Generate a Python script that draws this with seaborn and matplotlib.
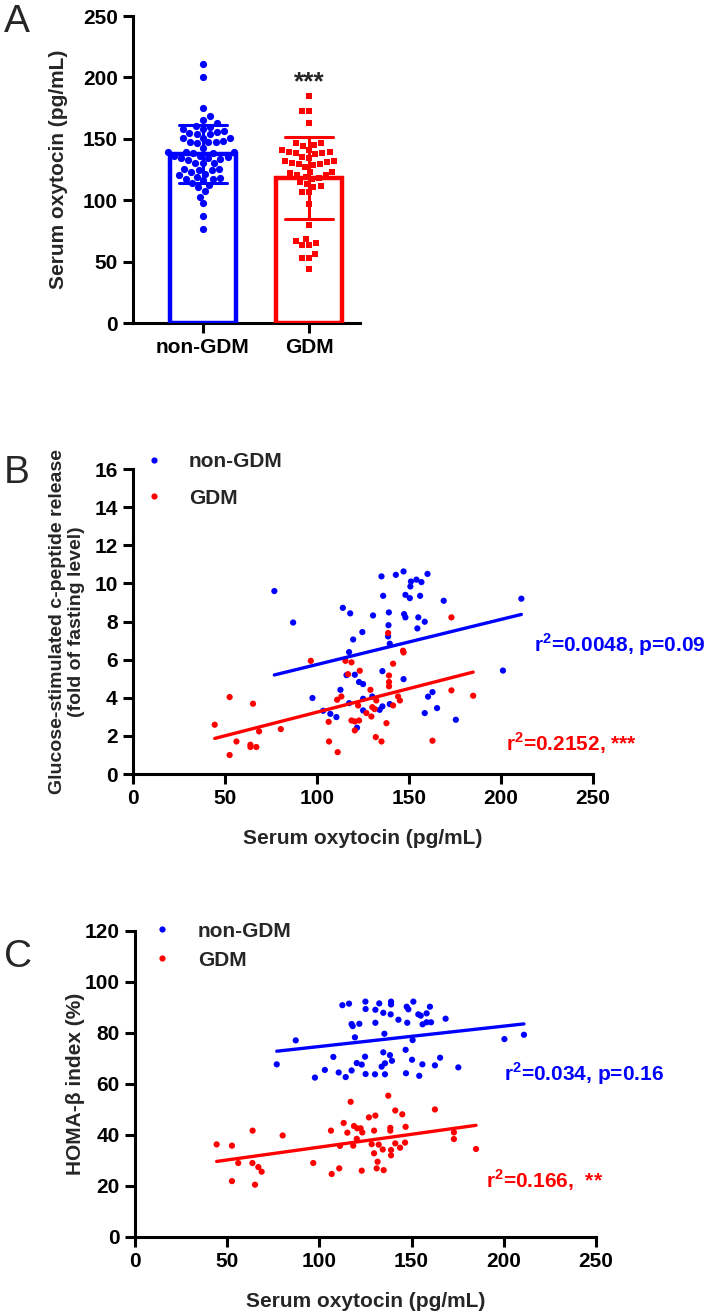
import numpy as np
import pandas as pd
import seaborn as sns
import matplotlib.pyplot as plt

BLUE = "#0000ff"
RED = "#ff0000"
GROUPS = ["non-GDM", "GDM"]

# --- Panel B: serum oxytocin vs glucose-stimulated c-peptide release ---
b_ctrl_oxt = [147, 142.8, 135, 160, 154, 151, 156.7, 150.7, 76.8, 135.9, 156, 148, 150.4,
              168.8, 87, 114, 118, 130.4, 139, 147.3, 148, 155, 158.5, 154.5, 119.6, 138.8,
              138.6, 124.6, 139.5, 117.4, 116, 120.5, 135.5, 147, 122.8, 125, 112.7, 97.5,
              125, 130, 117.4, 139.5, 103.3, 107.2, 110.5, 121.7, 125, 134, 135.5, 158.5,
              160.3, 162.7, 165.2, 175.4, 201, 211]
b_ctrl_cpep = [10.63, 10.45, 10.37, 10.5, 10.2, 10.1, 10.07, 9.84, 9.6, 9.35, 9.35, 9.4, 9.23,
               9.09, 7.95, 8.72, 8.43, 8.32, 8.48, 8.39, 8.22, 8.22, 7.99, 7.64, 7.06, 7.81,
               7.22, 7.45, 6.84, 6.4, 5.19, 5.21, 5.4, 4.98, 4.83, 4.72, 4.42, 3.99,
               3.95, 4.07, 3.72, 3.67, 3.32, 3.16, 2.99, 2.43, 3.34, 3.37, 3.55, 3.2,
               4.06, 4.3, 3.46, 2.85, 5.43, 9.2]
b_gdm_oxt = [44.4, 52.5, 52.5, 56.2, 65.2, 63.8, 63.8, 67, 68.5, 80.3, 96.6, 106.3, 106.5,
             111.2, 110.9, 113.2, 115.4, 118.7, 116.8, 123.2, 118.7, 120.5, 120.5, 122.8,
             122.3, 126.8, 129, 130, 131.3, 129.5, 132.2, 131.9, 135, 137.7, 138.6, 139.1,
             139.1, 139.1, 141.3, 141.3, 144, 145, 146.7, 147, 162.7, 173, 173, 184.8]
b_gdm_cpep = [2.59, 1.0, 4.04, 1.71, 3.69, 1.54, 1.42, 1.42, 2.24, 2.36, 5.94, 2.74, 1.71,
              1.15, 3.9, 4.07, 5.94, 5.86, 5.24, 5.42, 2.81, 2.76, 2.29, 2.81,
              3.6, 3.2, 4.42, 3.51, 3.41, 3.02, 3.86, 1.94, 1.71, 2.67, 7.4, 5.17,
              4.83, 4.6, 5.79, 3.6, 4.07, 3.86, 6.47, 6.38, 1.75, 8.22, 4.39, 4.11]

# --- Panel C: serum oxytocin vs HOMA-beta index ---
c_ctrl_oxt = [76.9, 87.2, 97.6, 103, 107.6, 110.5, 112.5, 116.1, 114.3, 117.5, 117.5, 118.1,
              121.7, 119.3, 120.3, 123, 124.8, 125.1, 125, 125.1, 130.4, 130.4, 130.2, 132.5,
              134.7, 135.3, 134.7, 135.6, 133.8, 135.6, 138.9, 138.9, 138.7, 138.3, 139.4,
              142.9, 147.4, 148.3, 147.7, 146.8, 147, 151, 150.6, 150.3, 153.7, 155, 154.2,
              155.9, 156, 158.2, 158.2, 160, 160.6, 162.7, 165.5, 168.5, 175.4, 200.4, 211]
c_ctrl_homa = [67.6, 77.0, 62.4, 65.4, 70.5, 64.4, 90.8, 91.4, 62.6, 65.2, 83.4, 82.6,
               83.5, 78.2, 68.1, 67.5, 70.6, 63.8, 92.2, 89.3, 89.0, 83.9, 63.7, 91.5,
               87.8, 79.6, 72.3, 68.0, 66.7, 63.7, 92.2, 91.1, 87.2, 71.2, 69.0,
               85.1, 90.2, 89.2, 83.9, 73.3, 64.1, 92.2, 77.1, 69.4, 87.2, 86.7, 63.1,
               67.6, 83.3, 87.6, 84.1, 90.2, 84.1, 67.2, 70.2, 85.5, 66.4, 77.5, 79.2]
c_gdm_oxt = [44.3, 52.6, 52.6, 56, 63.8, 63.7, 66.9, 68.7, 65.1, 80.1, 96.7, 106.3, 106.7,
             110.8, 111.2, 113.2, 115.2, 117, 118.4, 118.8, 120.3, 120.6, 122.4, 123.3, 123,
             126.9, 130.4, 128.4, 129.7, 129.7, 132.2, 131.6, 131.1, 134.4, 134.9, 137.4,
             138.5, 138.5, 138.9, 138.9, 141.2, 141.2, 143.8, 145, 146.8, 146.5, 162.7,
             173, 173, 185]
c_gdm_homa = [36.2, 35.7, 21.8, 28.9, 41.6, 28.9, 27.3, 25.5, 20.4, 39.7, 28.9, 41.6, 24.6,
              26.8, 35.6, 44.6, 40.8, 52.9, 35.7, 43.4, 38.4, 42.5, 42.5, 40.9, 25.9,
              46.8, 47.5, 36.3, 32.7, 41.6, 36.1, 29.4, 26.8, 34.2, 26.1, 55.3,
              42.7, 41.6, 34.0, 31.9, 49.5, 36.6, 34.9, 48.0, 43.1, 36.9, 49.9,
              40.9, 38.3, 34.4]

b_labels = ["r$^{\\mathbf{2}}$=0.0048, p=0.09", "r$^{\\mathbf{2}}$=0.2152, ***"]
c_labels = ["r$^{\\mathbf{2}}$=0.034, p=0.16", "r$^{\\mathbf{2}}$=0.166,  **"]

# --- style ---
sns.set_style("ticks")
plt.rcParams.update({
    "font.family": ["Liberation Sans", "DejaVu Sans"],
    "font.weight": "bold",
    "axes.labelweight": "bold",
    "font.size": 15,
    "axes.labelsize": 15,
    "xtick.labelsize": 15,
    "ytick.labelsize": 15,
    "legend.fontsize": 15,
    "axes.linewidth": 2.2,
    "axes.edgecolor": "black",
    "xtick.major.width": 2.2,
    "ytick.major.width": 2.2,
    "xtick.major.size": 7,
    "ytick.major.size": 7,
    "xtick.major.pad": 4,
    "ytick.major.pad": 4,
    "xtick.color": "black",
    "ytick.color": "black",
    "mathtext.fontset": "custom",
    "mathtext.rm": "Liberation Sans:bold",
    "mathtext.bf": "Liberation Sans:bold",
})

fig = plt.figure(figsize=(7.09, 13.12), dpi=100)
ax_a = fig.add_axes([0.1876, 0.7538, 0.320, 0.234])
ax_b = fig.add_axes([0.1876, 0.410, 0.649, 0.2325])
ax_c = fig.add_axes([0.1904, 0.0574, 0.650, 0.2332])

# --- A: bar (mean +/- SD) with individual points ---
df_a = pd.DataFrame({
    "group": ["non-GDM"] * len(c_ctrl_oxt) + ["GDM"] * len(c_gdm_oxt),
    "oxt": c_ctrl_oxt + c_gdm_oxt,
})
sns.swarmplot(data=df_a[df_a.group == "non-GDM"], x="group", y="oxt", order=GROUPS,
              color=BLUE, size=5.2, marker="o", linewidth=0, ax=ax_a, zorder=2)
sns.swarmplot(data=df_a[df_a.group == "GDM"], x="group", y="oxt", order=GROUPS,
              color=RED, size=5, marker="s", linewidth=0, ax=ax_a, zorder=2)
sns.barplot(data=df_a, x="group", y="oxt", hue="group", order=GROUPS,
            palette={"non-GDM": BLUE, "GDM": RED}, fill=False, errorbar="sd",
            capsize=0.46, width=0.63, linewidth=3.2, err_kws={"linewidth": 2.2},
            legend=False, ax=ax_a, zorder=3)
ax_a.set_xlim(-0.66, 1.48)
ax_a.set_ylim(0, 250)
ax_a.set_yticks(range(0, 251, 50))
ax_a.set_xlabel("")
ax_a.set_ylabel("Serum oxytocin (pg/mL)")
ax_a.yaxis.set_label_coords(-0.286, 0.5)
ax_a.text(1, 196, "***", ha="center", va="center", fontsize=19)


def scatter_panel(ax, ctrl_x, ctrl_y, gdm_x, gdm_y, ycol):
    df = pd.DataFrame({
        "group": ["non-GDM"] * len(ctrl_x) + ["GDM"] * len(gdm_x),
        "oxt": ctrl_x + gdm_x,
        ycol: ctrl_y + gdm_y,
    })
    sns.scatterplot(data=df, x="oxt", y=ycol, hue="group", hue_order=GROUPS,
                    palette={"non-GDM": BLUE, "GDM": RED}, s=20, linewidth=0, ax=ax)
    handles, labels = ax.get_legend_handles_labels()
    for grp, col in zip(GROUPS, [BLUE, RED]):
        sns.regplot(data=df[df.group == grp], x="oxt", y=ycol, scatter=False, ci=None,
                    truncate=True, color=col, line_kws={"linewidth": 2.4}, ax=ax)
    ax.set_xlim(0, 250)
    ax.set_xticks(range(0, 251, 50))
    return handles, labels


# --- B ---
h, l = scatter_panel(ax_b, b_ctrl_oxt, b_ctrl_cpep, b_gdm_oxt, b_gdm_cpep, "cpep")
ax_b.legend(h, l, frameon=False, loc="upper left", bbox_to_anchor=(0.023, 1.055),
            borderpad=0, borderaxespad=0, handlelength=1, handletextpad=1.18,
            labelspacing=0.83)
ax_b.set_ylim(0, 16)
ax_b.set_yticks(range(0, 17, 2))
ax_b.set_xlabel("Serum oxytocin (pg/mL)")
ax_b.set_ylabel("Glucose-stimulated c-peptide release\n(fold of fasting level)", fontsize=14)
ax_b.xaxis.set_label_coords(0.5, -0.18)
ax_b.yaxis.set_label_coords(-0.104, 0.5)
ax_b.text(218, 6.77, b_labels[0], color=BLUE, va="center", ha="left", fontsize=15)
ax_b.text(202.7, 1.63, b_labels[1], color=RED, va="center", ha="left", fontsize=15)

# --- C ---
h, l = scatter_panel(ax_c, c_ctrl_oxt, c_ctrl_homa, c_gdm_oxt, c_gdm_homa, "homa")
ax_c.legend(h, l, frameon=False, loc="upper left", bbox_to_anchor=(0.036, 1.03),
            borderpad=0, borderaxespad=0, handlelength=1, handletextpad=1.23,
            labelspacing=0.49)
ax_c.set_ylim(0, 120)
ax_c.set_yticks(range(0, 121, 20))
ax_c.set_xlabel("Serum oxytocin (pg/mL)")
ax_c.set_ylabel("HOMA-\u03b2 index (%)")
ax_c.xaxis.set_label_coords(0.5, -0.18)
ax_c.yaxis.set_label_coords(-0.108, 0.5)
ax_c.text(200, 63.8, c_labels[0], color=BLUE, va="center", ha="left", fontsize=15)
ax_c.text(190.5, 22.2, c_labels[1], color=RED, va="center", ha="left", fontsize=15)

for ax in (ax_a, ax_b, ax_c):
    sns.despine(ax=ax)

# panel letters
for letter, ypix in [("A", 22), ("B", 473), ("C", 957)]:
    fig.text(0.005, 1 - ypix / 1312, letter, fontsize=28, fontweight="normal",
             ha="left", va="center")

fig.savefig("out.png", dpi=100)
